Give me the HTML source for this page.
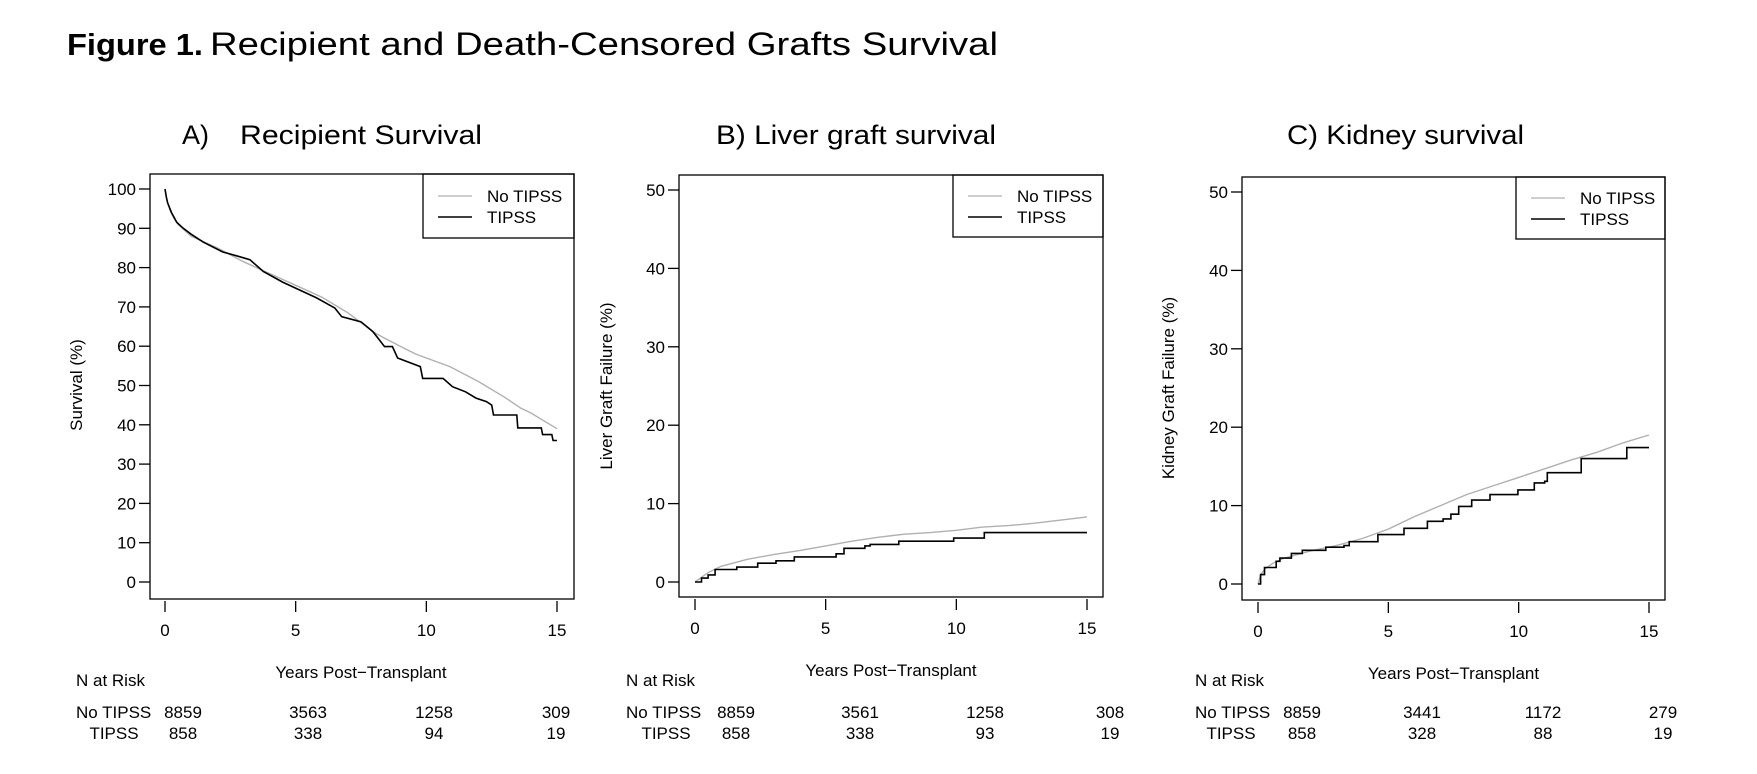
<!DOCTYPE html>
<html><head><meta charset="utf-8"><style>
html,body{margin:0;padding:0;background:#fff;}
svg{display:block;font-family:"Liberation Sans",Arial,sans-serif;}
</style></head><body>
<svg id="s" width="1757" height="774" viewBox="0 0 1757 774" xmlns="http://www.w3.org/2000/svg">
<rect width="1757" height="774" fill="#fff"/>
<text x="67" y="55" font-size="31" font-weight="bold" textLength="136" lengthAdjust="spacingAndGlyphs">Figure 1.</text>
<text x="210" y="55" font-size="32" textLength="788" lengthAdjust="spacingAndGlyphs">Recipient and Death-Censored Grafts Survival</text>
<text x="182" y="144" font-size="27" textLength="27" lengthAdjust="spacingAndGlyphs">A)</text>
<text x="240" y="144" font-size="27" textLength="242" lengthAdjust="spacingAndGlyphs">Recipient Survival</text>
<text x="716" y="144" font-size="27" textLength="280" lengthAdjust="spacingAndGlyphs">B) Liver graft survival</text>
<text x="1287" y="144" font-size="27" textLength="237" lengthAdjust="spacingAndGlyphs">C) Kidney survival</text>
<g id="g"></g>
</svg>
<script>
var g=document.getElementById('g');var h='';
function T(x,y,t,o){o=o||{};h+='<text x="'+x+'" y="'+y+'" font-size="'+(o.fs||17)+'"'+(o.a?' text-anchor="'+o.a+'"':'')+(o.tr?' transform="'+o.tr+'"':'')+'>'+t+'</text>';}
function L(x1,y1,x2,y2,c,w){h+='<line x1="'+x1+'" y1="'+y1+'" x2="'+x2+'" y2="'+y2+'" stroke="'+(c||'#000')+'" stroke-width="'+(w||1.3)+'"/>';}
function panel(p){
 var X=function(t){return p.x0+t*(p.x15-p.x0)/15;}, Y=function(v){return p.y0-(v-p.vmin)*(p.y0-p.ytop)/(p.vmax-p.vmin);};
 h+='<rect x="'+p.bl+'" y="'+p.bt+'" width="'+(p.br-p.bl)+'" height="'+(p.bb-p.bt)+'" fill="none" stroke="#000" stroke-width="1.3"/>';
 for(var v=p.vmin;v<=p.vmax;v+=10){var y=Y(v);L(p.bl-11,y,p.bl,y);T(p.bl-14,y+6,v,{a:'end'});}
 for(var t=0;t<=15;t+=5){var x=X(t);L(x,p.bb+2,x,p.bb+13);T(x,p.bb+37,t,{a:'middle'});}
 T(p.ylx,p.yly,p.ylab,{a:'middle',tr:'rotate(-90 '+p.ylx+' '+p.yly+')'});
 T((p.x0+p.x15)/2,p.bb+79,'Years Post\u2212Transplant',{a:'middle'});
 h+='<rect x="'+p.lx+'" y="'+p.bt+'" width="'+(p.br-p.lx)+'" height="'+(p.lb-p.bt)+'" fill="none" stroke="#000" stroke-width="1.3"/>';
 L(p.lx+15,p.ly,p.lx+49,p.ly,'#b0b0b0',1.2);L(p.lx+15,p.ly+21,p.lx+49,p.ly+21,'#000',1.6);
 T(p.lx+64,p.ly+6,'No TIPSS');T(p.lx+64,p.ly+27,'TIPSS');
 var d='';p.gray.forEach(function(q,i){d+=(i?'L':'M')+X(q[0]).toFixed(1)+' '+Y(q[1]).toFixed(1);});
 h+='<path d="'+d+'" fill="none" stroke="#b0b0b0" stroke-width="1.4"/>';
 d='';var prev=null;p.black.forEach(function(q,i){
  if(i==0)d+='M'+X(q[0]).toFixed(1)+' '+Y(q[1]).toFixed(1);
  else if(p.step){d+='L'+X(q[0]).toFixed(1)+' '+Y(prev[1]).toFixed(1)+'L'+X(q[0]).toFixed(1)+' '+Y(q[1]).toFixed(1);}
  else d+='L'+X(q[0]).toFixed(1)+' '+Y(q[1]).toFixed(1);prev=q;});
 h+='<path d="'+d+'" fill="none" stroke="#000" stroke-width="1.6"/>';
 var r=p.risk;T(r.nx,686,'N at Risk');T(r.nx,718,'No TIPSS');T(r.tx,739,'TIPSS',{a:'middle'});
 for(var i=0;i<4;i++){T(r.c[i],718,r.a[i],{a:'middle'});T(r.c[i],739,r.b[i],{a:'middle'});}
}
panel({bl:150,br:574,bt:174,bb:599,x0:165,x15:557,y0:582,ytop:189,vmin:0,vmax:100,ylx:82,yly:385,ylab:'Survival (%)',lx:423,lb:238,ly:196,step:false,
 gray:[[0,100],[0.05,98],[0.1,96.5],[0.2,94.5],[0.35,92.5],[0.5,91],[0.75,89.5],[1,88],[2,85],[3,81.5],[4,78.5],[5,75.5],[6,72.5],[7,68.5],[8,63.5],[8.3,62.4],[9,60],[9.6,58],[10.9,54.8],[12,51],[13,47],[13.6,44.3],[14,43],[15,39]],
 black:[[0,100],[0.05,98],[0.1,96.5],[0.25,94],[0.45,91.5],[0.7,90],[1,88.5],[1.46,86.5],[2.2,84],[2.74,83],[3.25,82],[3.76,79],[4.5,76.3],[5.8,72.3],[6.5,69.7],[6.76,67.5],[7.5,66.2],[7.96,63.7],[8.4,59.9],[8.7,59.9],[8.9,57],[9.77,54.8],[9.86,51.8],[10.64,51.8],[11,49.7],[11.5,48.4],[11.9,46.8],[12.3,45.9],[12.5,45],[12.57,42.5],[13.46,42.5],[13.5,39.2],[14.4,39.2],[14.45,37.5],[14.8,37.5],[14.85,36],[15,36]],
 risk:{nx:76,tx:114,c:[183,308,434,556],a:[8859,3563,1258,309],b:[858,338,94,19]}});
panel({bl:679,br:1103,bt:175,bb:597,x0:695,x15:1087,y0:582,ytop:190,vmin:0,vmax:50,ylx:612,yly:386,ylab:'Liver Graft Failure (%)',lx:953,lb:237,ly:196,step:true,
 gray:[[0,0],[0.5,1.2],[1,2],[2,2.9],[3,3.5],[4,4],[5,4.6],[6,5.2],[7,5.7],[8,6.1],[9,6.3],[10,6.6],[11,7],[12,7.2],[13,7.5],[14,7.9],[15,8.3]],
 black:[[0,0],[0.25,0.5],[0.5,0.9],[0.77,1.6],[1.6,1.9],[2.4,2.4],[3.1,2.7],[3.8,3.2],[5.4,3.6],[5.7,4.3],[6.5,4.6],[6.7,4.8],[7.8,5.2],[9.9,5.6],[11.07,6.3],[15,6.3]],
 risk:{nx:626,tx:666,c:[736,860,985,1110],a:[8859,3561,1258,308],b:[858,338,93,19]}});
panel({bl:1242,br:1665,bt:177,bb:600,x0:1258,x15:1649,y0:584,ytop:192,vmin:0,vmax:50,ylx:1174,yly:388,ylab:'Kidney Graft Failure (%)',lx:1516,lb:239,ly:198,step:true,
 gray:[[0,0],[0.1,1.2],[0.3,2],[0.6,2.7],[1,3.3],[2,4.2],[3,4.9],[4,5.8],[5,7],[6,8.6],[7,10],[8,11.4],[9,12.5],[10,13.6],[11,14.7],[12,15.8],[13,16.8],[14,18],[15,19]],
 black:[[0,0],[0.1,1.2],[0.25,2.1],[0.7,2.9],[0.84,3.3],[1.28,3.9],[1.7,4.3],[2.6,4.7],[3.3,4.9],[3.5,5.4],[4.6,6.3],[5.6,7.1],[6.5,8],[7.1,8.3],[7.4,8.9],[7.7,9.9],[8.2,10.7],[8.9,11.4],[9.97,12],[10.6,12.9],[11,13.1],[11.1,14.2],[12.4,16],[14.15,17.4],[15,17.4]],
 risk:{nx:1195,tx:1231,c:[1302,1422,1543,1663],a:[8859,3441,1172,279],b:[858,328,88,19]}});
g.innerHTML=h;
</script>
</body></html>
